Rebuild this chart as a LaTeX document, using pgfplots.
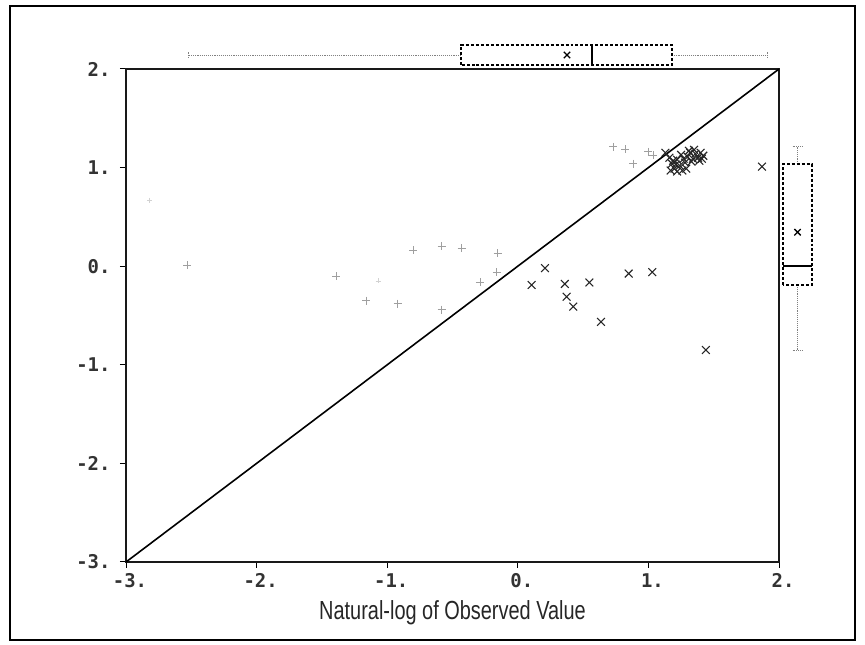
\documentclass[border=0pt]{standalone}
\usepackage{pgfplots}
\pgfplotsset{compat=1.18}
\usepgfplotslibrary{statistics}
\usepackage{fontspec}
\setmainfont{Liberation Sans}
\newfontfamily\monof{DejaVu Sans Mono}
\begin{document}
\begin{tikzpicture}
\path[use as bounding box] (0bp,0bp) rectangle (865bp,645bp);
\draw[line width=1.2bp] (10bp,5bp) rectangle (855bp,639bp);
% main scatter
\begin{axis}[
  at={(126bp,83bp)}, anchor=south west, scale only axis,
  width=653bp, height=493bp,
  xmin=-3, xmax=2, ymin=-3, ymax=2,
  xtick={-3,-2,-1,0,1,2}, ytick={-3,-2,-1,0,1,2},
  xticklabels={-3.,-2.,-1.,0.,1.,2.},
  yticklabels={-3.,-2.,-1.,0.,1.,2.},
  tick label style={font=\monof\bfseries\fontsize{19}{19}\selectfont, black!80},
  xticklabel style={yshift=-2bp, xshift=4bp},
  yticklabel style={xshift=-6bp},
  tick pos=left, tick align=outside, major tick length=6bp,
  tick style={black, line width=1bp},
  axis line style={line width=2bp, black!90},
  xlabel={\scalebox{0.80}[1.05]{Natural-log of Observed Value}},
  xlabel style={font=\fontsize{25}{25}\selectfont, black!85, at={(axis description cs:0.5,0)}, anchor=center, yshift=-51bp},
  clip=false
]
\addplot[black, line width=1.6bp] coordinates {(-3,-3) (2,2)};
% plus-marked points
\addplot[only marks, mark=+, mark size=4bp, gray!75, line width=0.8bp] coordinates {
(0.731,1.21) (0.821,1.185) (0.885,1.04) (0.999,1.16) (1.038,1.127)
(-0.80,0.16) (-0.583,0.20) (-0.43,0.18) (-0.154,0.13) (-0.162,-0.06)
(-0.29,-0.165) (-0.583,-0.44) (-0.92,-0.38)
(-2.53,0.01) (-1.39,-0.10) (-1.16,-0.35)
};
\addplot[only marks, mark=+, mark size=2.5bp, gray!35, line width=0.6bp] coordinates {(-2.82,0.67) (-1.07,-0.15)};
% x-marked points
\addplot[only marks, mark=x, mark size=5.5bp, black!85, line width=1.1bp] coordinates {
(0.208,-0.02) (0.106,-0.19) (0.36,-0.18) (0.374,-0.31) (0.425,-0.41)
(0.548,-0.165) (0.637,-0.565) (0.849,-0.075) (1.03,-0.06) (1.44,-0.85)
(1.87,1.01)
(1.13,1.15) (1.16,1.10) (1.18,1.04) (1.20,0.99) (1.22,1.08) (1.24,1.02)
(1.26,0.97) (1.28,1.05) (1.30,1.11) (1.32,1.15) (1.34,1.09) (1.36,1.14)
(1.38,1.10) (1.40,1.15) (1.42,1.12) (1.25,1.13) (1.22,0.96)
(1.17,0.97) (1.21,1.03) (1.29,0.99) (1.31,1.17) (1.35,1.18) (1.39,1.07)
(1.33,1.06) (1.27,1.09) (1.19,1.07) (1.41,1.09)
};
\end{axis}
% top box plot (x values)
\begin{axis}[
  at={(126bp,576bp)}, anchor=south west, scale only axis,
  width=653bp, height=30bp,
  xmin=-3, xmax=2, ymin=0, ymax=1.5, hide axis, clip=false
]
\addplot[black, line width=1.4bp, densely dashed,
  boxplot/draw direction=x, boxplot/draw position=0.7,
  boxplot/box extend=1.0, boxplot/whisker extend=0.3,
  boxplot/every whisker/.style={densely dotted, line width=0.9bp, gray},
  boxplot/every median/.style={solid, line width=1.6bp},
  boxplot prepared={lower whisker=-2.525, lower quartile=-0.435, median=0.568,
    upper quartile=1.18, upper whisker=1.908}] coordinates {};
\addplot[only marks, mark=x, mark size=4.5bp, black, line width=1.3bp] coordinates {(0.377,0.7)};
\end{axis}
% right box plot (y values)
\begin{axis}[
  at={(779bp,83bp)}, anchor=south west, scale only axis,
  width=40bp, height=493bp,
  xmin=0, xmax=1, ymin=-3, ymax=2, hide axis, clip=false
]
\addplot[black, line width=1.4bp, densely dashed,
  boxplot/draw direction=y, boxplot/draw position=0.4625,
  boxplot/box extend=0.725, boxplot/whisker extend=0.25,
  boxplot/every whisker/.style={densely dotted, line width=0.9bp, gray},
  boxplot/every median/.style={solid, line width=1.6bp},
  boxplot prepared={lower whisker=-0.85, lower quartile=-0.19, median=0.0,
    upper quartile=1.035, upper whisker=1.21}] coordinates {};
\addplot[only marks, mark=x, mark size=4.5bp, black, line width=1.3bp] coordinates {(0.4625,0.345)};
\end{axis}
\end{tikzpicture}
\end{document}
